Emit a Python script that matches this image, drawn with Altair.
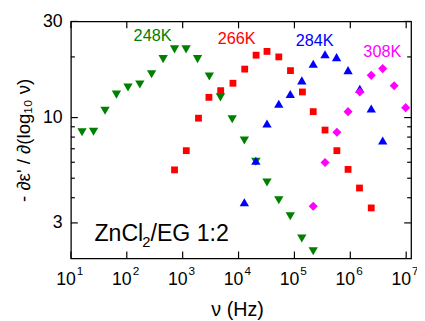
import altair as alt
import pandas as pd

# ---- data ----
f248 = [15.8, 25.4, 40.8, 65.3, 105, 171, 278, 447, 715, 1150, 1845, 3000, 4745, 7700,
        12700, 20400, 32300, 52500, 84300, 135600, 217000]
e248 = [8.45, 8.5, 10.8, 13.0, 14.1, 14.6, 16.4, 19.5, 21.8, 21.8, 19.5, 16.0, 12.6, 9.8,
        7.7, 6.03, 4.76, 3.89, 3.24, 2.51, 2.17]

f266 = [715, 1160, 1920, 2950, 4790, 7940, 12900, 20600, 32300, 52500, 85000, 139000,
        217000, 353000, 575000, 912000, 1.46e6, 2.37e6]
e266 = [5.5, 6.85, 9.93, 12.6, 13.6, 14.8, 17.4, 20.4, 21.3, 20.0, 17.1, 13.4,
        10.7, 8.67, 6.85, 5.53, 4.47, 3.56]

f284 = [12700, 20400, 32300, 52500, 84300, 135600, 217000, 353000, 568000, 912000,
        1.48e6, 2.37e6, 3.8e6]
e284 = [3.80, 6.1, 9.35, 11.7, 13.1, 15.3, 18.5, 20.6, 19.95, 17.2, 13.9, 11.1, 7.7]

f308 = [217000, 353000, 575000, 912000, 1.48e6, 2.37e6, 3.8e6, 6.1e6, 9.8e6]
e308 = [3.63, 5.98, 8.45, 10.7, 13.4, 16.2, 17.5, 14.4, 11.2]

series_names = ["248K", "266K", "284K", "308K"]
series_colors = ["#008000", "#ff0000", "#0000ff", "#ff00ff"]
label_x = [289, 9230, 231000, 3.74e6]
label_y = [25.4, 24.4, 24.0, 21.1]

x_decades = [1e1, 1e2, 1e3, 1e4, 1e5, 1e6, 1e7]
x_exps = ["1", "2", "3", "4", "5", "6", "7"]
y_major = [3, 10, 30]
y_minor = [4, 5, 6, 7, 8, 9, 20]

W, H = 346, 241
FONT = "Liberation Sans"

xs = alt.Scale(type="log", domain=[10, 1.225e7], nice=False)
ys = alt.Scale(type="log", domain=[2, 30], nice=False)

xaxis = alt.Axis(labels=False, ticks=False, domain=False, grid=False,
                 title="ν (Hz)", titleFont=FONT, titleFontSize=20,
                 titleFontWeight="normal", titleColor="black",
                 titleX=169, titleY=58, titleBaseline="alphabetic")
yaxis = alt.Axis(values=y_major, format="d", ticks=False, domain=False, grid=False,
                 labelFont=FONT, labelFontSize=18, labelColor="black", labelPadding=9,
                 title="- ∂ε' / ∂(log₁₀ ν)", titleFont=FONT, titleFontSize=19,
                 titleFontWeight="normal", titleColor="black",
                 titleX=-48, titleY=H / 2, titleBaseline="middle", titleAngle=270)

X = lambda: alt.X("f:Q", scale=xs, axis=xaxis)
Y = lambda: alt.Y("e:Q", scale=ys, axis=yaxis)


def pts(f, e, shape, color, size):
    df = pd.DataFrame({"f": f, "e": e})
    return alt.Chart(df).mark_point(shape=shape, filled=True, color=color,
                                    size=size, opacity=1, strokeWidth=0).encode(x=X(), y=Y())


layers = [
    pts(f248, e248, "triangle-down", series_colors[0], 90),
    pts(f266, e266, "square", series_colors[1], 48),
    pts(f284, e284, "triangle-up", series_colors[2], 90),
    pts(f308, e308, "diamond", series_colors[3], 85),
]

# series labels
for n, c, lx, ly in zip(series_names, series_colors, label_x, label_y):
    layers.append(
        alt.Chart(pd.DataFrame({"f": [lx], "e": [ly], "t": [n]}))
        .mark_text(font=FONT, fontSize=16.5, color=c, align="center", baseline="middle")
        .encode(x=X(), y=Y(), text="t:N")
    )

# sample label with subscript
zn = pd.DataFrame({"f": [26.4], "e": [2.448]})
layers.append(alt.Chart(zn).mark_text(font=FONT, fontSize=23.5, color="black", align="left",
                                      baseline="alphabetic", text="ZnCl").encode(x=X(), y=Y()))
layers.append(alt.Chart(zn).mark_text(font=FONT, fontSize=15, color="black", align="left",
                                      baseline="alphabetic", text="2", dx=48.5, dy=6).encode(x=X(), y=Y()))
layers.append(alt.Chart(zn).mark_text(font=FONT, fontSize=23.5, color="black", align="left",
                                      baseline="alphabetic", text="/EG 1:2", dx=57).encode(x=X(), y=Y()))

# inward ticks
xd = pd.DataFrame({"f": x_decades, "x": x_exps})
layers.append(alt.Chart(xd).mark_rule(color="black", strokeWidth=1.2)
              .encode(x=X(), y=alt.value(H), y2=alt.value(H - 7)))
layers.append(alt.Chart(xd).mark_rule(color="black", strokeWidth=1.2)
              .encode(x=X(), y=alt.value(0), y2=alt.value(7)))
ymj = pd.DataFrame({"e": y_major})
ymn = pd.DataFrame({"e": y_minor})
for df, L in ((ymj, 7), (ymn, 4)):
    layers.append(alt.Chart(df).mark_rule(color="black", strokeWidth=1.2)
                  .encode(y=Y(), x=alt.value(0), x2=alt.value(L)))
    layers.append(alt.Chart(df).mark_rule(color="black", strokeWidth=1.2)
                  .encode(y=Y(), x=alt.value(W), x2=alt.value(W - L)))

# x tick labels 10^n
layers.append(alt.Chart(xd).mark_text(font=FONT, fontSize=18, color="black", align="right",
                                      baseline="alphabetic", text="10", dx=5)
              .encode(x=X(), y=alt.value(H + 27)))
layers.append(alt.Chart(xd).mark_text(font=FONT, fontSize=12, color="black", align="left",
                                      baseline="alphabetic", dx=6)
              .encode(x=X(), y=alt.value(H + 17), text="x:N"))

chart = alt.layer(*layers).properties(
    width=W, height=H,
    autosize=alt.AutoSizeParams(type="none"),
    padding={"left": 64, "top": 11, "right": 6, "bottom": 60},
).configure_view(stroke="black", strokeWidth=1.3)

chart.save("out.html", embed_options={"renderer": "svg", "actions": False})
